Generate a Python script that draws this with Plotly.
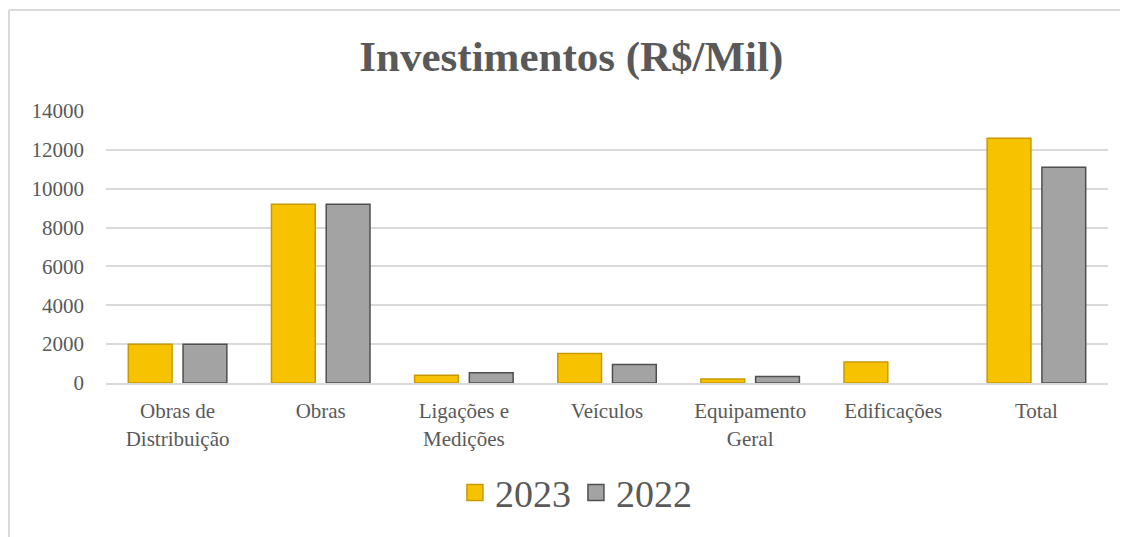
import plotly.graph_objects as go

categorias = ["Obras de<br>Distribuição", "Obras", "Ligações e<br>Medições", "Veículos",
              "Equipamento<br>Geral", "Edificações", "Total"]
valores_2023 = [2000, 9200, 400, 1520, 200, 1080, 12600]
valores_2022 = [2000, 9200, 530, 950, 330, 0, 11110]

cinza_texto = "#595959"
fonte = "Liberation Serif, Times New Roman, serif"
amarelo, borda_amarelo = "#F7C200", "#C99A00"
cinza, borda_cinza = "#A3A3A3", "#4F4F4F"

fig = go.Figure()
fig.add_trace(go.Bar(x=categorias, y=valores_2023, name="2023", showlegend=False,
                     marker=dict(color=amarelo, line=dict(color=borda_amarelo,
                                                          width=[1.5 if v else 0 for v in valores_2023]))))
fig.add_trace(go.Bar(x=categorias, y=valores_2022, name="2022", showlegend=False,
                     marker=dict(color=cinza, line=dict(color=borda_cinza,
                                                        width=[1.5 if v else 0 for v in valores_2022]))))
# entradas da legenda com quadrados maiores
for nome, cor, borda in [("2023", amarelo, borda_amarelo), ("2022", cinza, borda_cinza)]:
    fig.add_trace(go.Scatter(x=[None], y=[None], mode="markers", name=nome,
                             marker=dict(symbol="square", size=16, color=cor,
                                         line=dict(color=borda, width=1.5))))

# moldura do gráfico (parcialmente cortada na imagem)
fig.add_shape(type="line", xref="paper", yref="paper", x0=-0.0968, x1=1.1, y0=1.371, y1=1.371,
              line=dict(color="#D9D9D9", width=2))
fig.add_shape(type="line", xref="paper", yref="paper", x0=-0.0968, x1=-0.0968, y0=1.371, y1=-0.6,
              line=dict(color="#D9D9D9", width=2))

fig.update_layout(
    width=1120, height=529,
    margin=dict(l=98, r=20, t=103, b=151),
    paper_bgcolor="white", plot_bgcolor="white",
    font=dict(family=fonte, color=cinza_texto, size=21),
    title=dict(text="<b>Investimentos (R$/Mil)</b>", x=0.503, xanchor="center",
               y=0.909, yanchor="middle", font=dict(size=43, color=cinza_texto, family=fonte)),
    barmode="group", bargap=0.235, bargroupgap=0.2,
    showlegend=True,
    legend=dict(orientation="h", x=0.469, xanchor="center", y=-0.404, yanchor="middle",
                font=dict(size=38, color=cinza_texto, family=fonte), itemsizing="trace",
                itemwidth=30),
)
fig.update_yaxes(range=[0, 14000], dtick=2000, tickformat="d", showgrid=True, gridcolor="#D9D9D9",
                 gridwidth=1.5, zeroline=False, showline=False, ticks="",
                 tickfont=dict(size=21, color=cinza_texto), ticklabelstandoff=21)
fig.update_xaxes(showline=True, linecolor="#D9D9D9", linewidth=2, ticks="",
                 tickfont=dict(size=21, color=cinza_texto), tickangle=0, ticklabelstandoff=8)

fig.write_html("out.html")
